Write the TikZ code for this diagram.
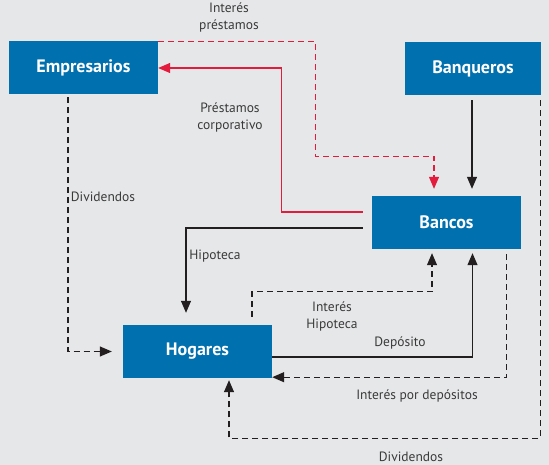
\documentclass[tikz,border=0pt]{standalone}
\usepackage{fontspec}
\setmainfont{PT Sans}
\usetikzlibrary{arrows.meta,calc}
\definecolor{bgc}{HTML}{E6E7E9}
\definecolor{boxblue}{HTML}{0070AF}
\definecolor{flowred}{HTML}{E31B3C}
\definecolor{flowline}{HTML}{231F20}
\definecolor{labeltxt}{HTML}{3A3A3A}
\tikzset{
  actor/.style={fill=boxblue, draw=none, text=white, minimum height=53pt,
    inner sep=0pt, font=\fontsize{18}{21}\selectfont\bfseries},
  flow/.style={line width=1.2pt, draw=flowline, -{Triangle[length=12pt,width=10pt]}},
  flowdash/.style={flow, dash pattern=on 6pt off 4pt},
  redflow/.style={flow, draw=flowred},
  reddash/.style={redflow, dash pattern=on 6pt off 4pt},
  lbl/.style={text=labeltxt, align=center, inner sep=0pt,
    font=\fontsize{13.5}{17}\selectfont}
}
\begin{document}
\begin{tikzpicture}[x=1pt,y=-1pt]
  \fill[bgc] (0,0) rectangle (549,465);
  \useasboundingbox (0,0) rectangle (549,465);

  % the four sectors
  \node[actor, minimum width=149pt] (emp)  at (83.5,68)   {Empresarios};
  \node[actor, minimum width=136pt] (ban)  at (473,68.5)  {Banqueros};
  \node[actor, minimum width=149pt] (banc) at (446.5,222.5) {Bancos};
  \node[actor, minimum width=149pt] (hog)  at (197.5,351.5) {Hogares};

  % loans and their interest
  \draw[redflow] ($(banc.west)+(-9,-10.5)$) -- ++(-81,0) |- (emp.east);
  \draw[reddash] (emp.north east) -- ++(157,0) -- ++(0,115)
        -| ($(banc.north)+(-12.5,-7)$);
  % bankers' capital
  \draw[flow] ($(ban.south)+(-1,5)$) -- ($(banc.north -| ban.south)+(-1,-7)$);
  % mortgage
  \draw[flow] ($(banc.west)+(-9,5.5)$) -| ($(hog.north)+(-11.5,-12)$);
  % dividends paid by firms
  \draw[flowdash] ($(emp.south)+(-15.5,2.5)$) |- ($(hog.west)+(-11,0)$);
  % mortgage interest
  \draw[flowdash] ($(hog.north)+(54.5,-8)$) -- ++(0,-25)
        -| ($(banc.south)+(-14.5,4)$);
  % deposits
  \draw[flow] ($(hog.east)+(0,5.5)$) -| ($(banc.south)+(26,4)$);
  % interest on deposits
  \draw[flowdash] ($(banc.south)+(60,5)$) |- ($(hog.south east)+(0,-1)$);
  % dividends paid by bankers
  \draw[flowdash] ($(ban.south east)+(-1,5)$) -- ++(0,338)
        -| ($(hog.south)+(31.5,2)$);

  % flow labels
  \node[lbl] (l1) at (229,17)  {Interés\\préstamos};
  \node[lbl] (l2) at (230,117) {Préstamos\\corporativo};
  \node[lbl] (l3) at (103,197) {Dividendos};
  \node[lbl] (l4) at (215,256) {Hipoteca};
  \node[lbl] (l5) at (332,316) {Interés\\Hipoteca};
  \node[lbl] (l6) at (400,343) {Depósito};
  \node[lbl] (l7) at (417,396) {Interés por depósitos};
  \node[lbl] (l8) at (411,457) {Dividendos};
\end{tikzpicture}
\end{document}
